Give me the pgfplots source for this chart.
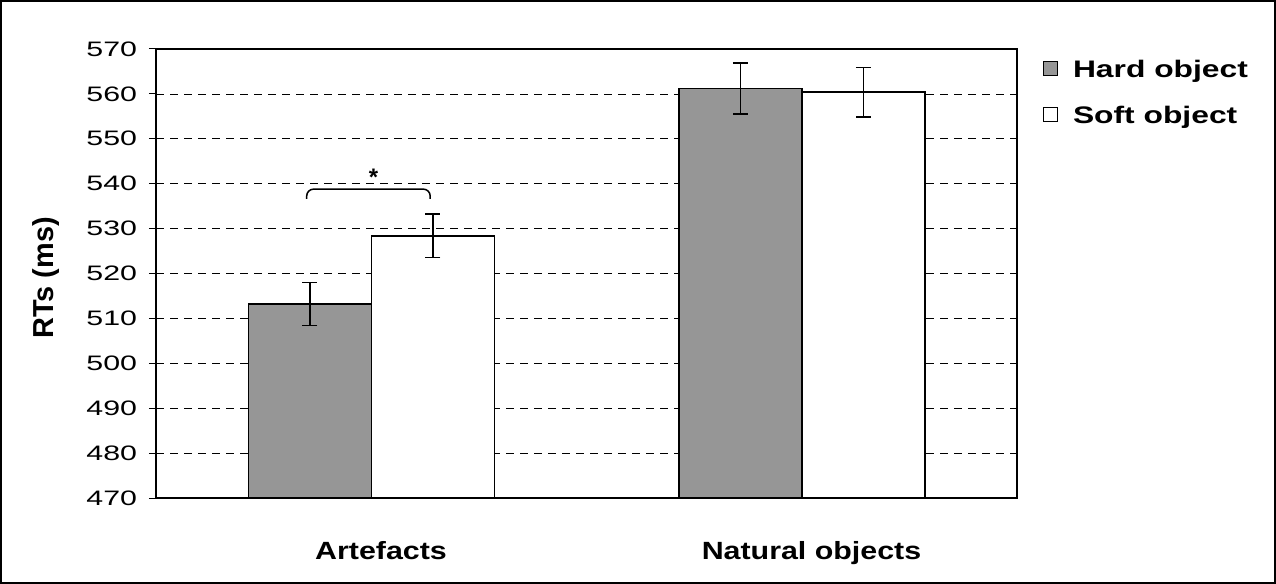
\documentclass[border=0pt]{standalone}
\usepackage{fontspec}
\setmainfont{Liberation Sans}
\usepackage{graphicx}
\usepackage{pgfplots}
\pgfplotsset{compat=1.18}
\definecolor{hardgray}{RGB}{150,150,150}
\begin{document}
\begin{tikzpicture}
\draw[line width=2bp] (1bp,1bp) rectangle (1275bp,583bp);
\begin{axis}[
  at={(156bp,86bp)}, anchor=south west,
  scale only axis, width=861bp, height=449bp,
  ybar=0pt, bar width=123bp,
  ymin=470, ymax=570, ytick={470,480,...,570},
  xmin=-0.5, xmax=1.5, xtick={0,1},
  xticklabels={Artefacts,Natural objects},
  xtick style={draw=none},
  ytick pos=left,
  ytick style={black, line width=1bp},
  tick align=outside, major tick length=7bp,
  ymajorgrids,
  grid style={black, line width=0.7bp, dash pattern=on 8bp off 6bp},
  axis line style={black, line width=1.5bp},
  /pgf/number format/assume math mode=true,
  yticklabel style={font=\fontsize{21}{25}\selectfont, xscale=1.45, anchor=east, inner sep=0bp, xshift=-8bp},
  xticklabel style={font=\bfseries\fontsize{25}{30}\selectfont, xscale=1.22, anchor=base, inner sep=0bp, yshift=-54bp, xshift=8bp},
  ylabel={RTs (ms)},
  ylabel style={font=\bfseries\fontsize{29}{34}\selectfont, at={(axis description cs:-0.1283,0.49)}, anchor=center},
  legend style={at={(axis description cs:1.0302,0.975)}, anchor=north west, draw=none, fill=none,
    font=\bfseries\fontsize{24}{28}\selectfont, row sep=28.7bp, inner sep=0bp, outer sep=0bp,
    nodes={inner sep=0bp, text height=17.3bp, text depth=0bp},
    /tikz/every odd column/.append style={column sep=15bp}},
  legend cell align=left,
  legend image code/.code={\draw[#1, line width=1bp] (0bp,-7bp) rectangle (14bp,7bp);},
  error bars/y dir=both, error bars/y explicit,
  error bars/error bar style={black, line width=1.5bp},
  error bars/error mark options={black, rotate=90, mark size=7.5bp, line width=1.5bp},
]
\addplot[fill=hardgray, draw=black, line width=1.5bp] coordinates {(0,513.2) +- (0,4.8) (1,561.2) +- (0,5.7)};
\addplot[fill=white, draw=black, line width=1.5bp] coordinates {(0,528.4) +- (0,4.85) (1,560.4) +- (0,5.5)};
\legend{\scalebox{1.33}[1]{Hard object}, \scalebox{1.33}[1]{Soft object}}
\draw[black, line width=1.5bp, rounded corners=7bp] (axis cs:-0.15,536.6) -- (axis cs:-0.15,538.8) -- (axis cs:0.137,538.8) -- (axis cs:0.137,536.6);
\node[font=\bfseries\fontsize{24}{28}\selectfont] at (axis cs:0.005,541.4) {*};
\end{axis}
\end{tikzpicture}
\end{document}
